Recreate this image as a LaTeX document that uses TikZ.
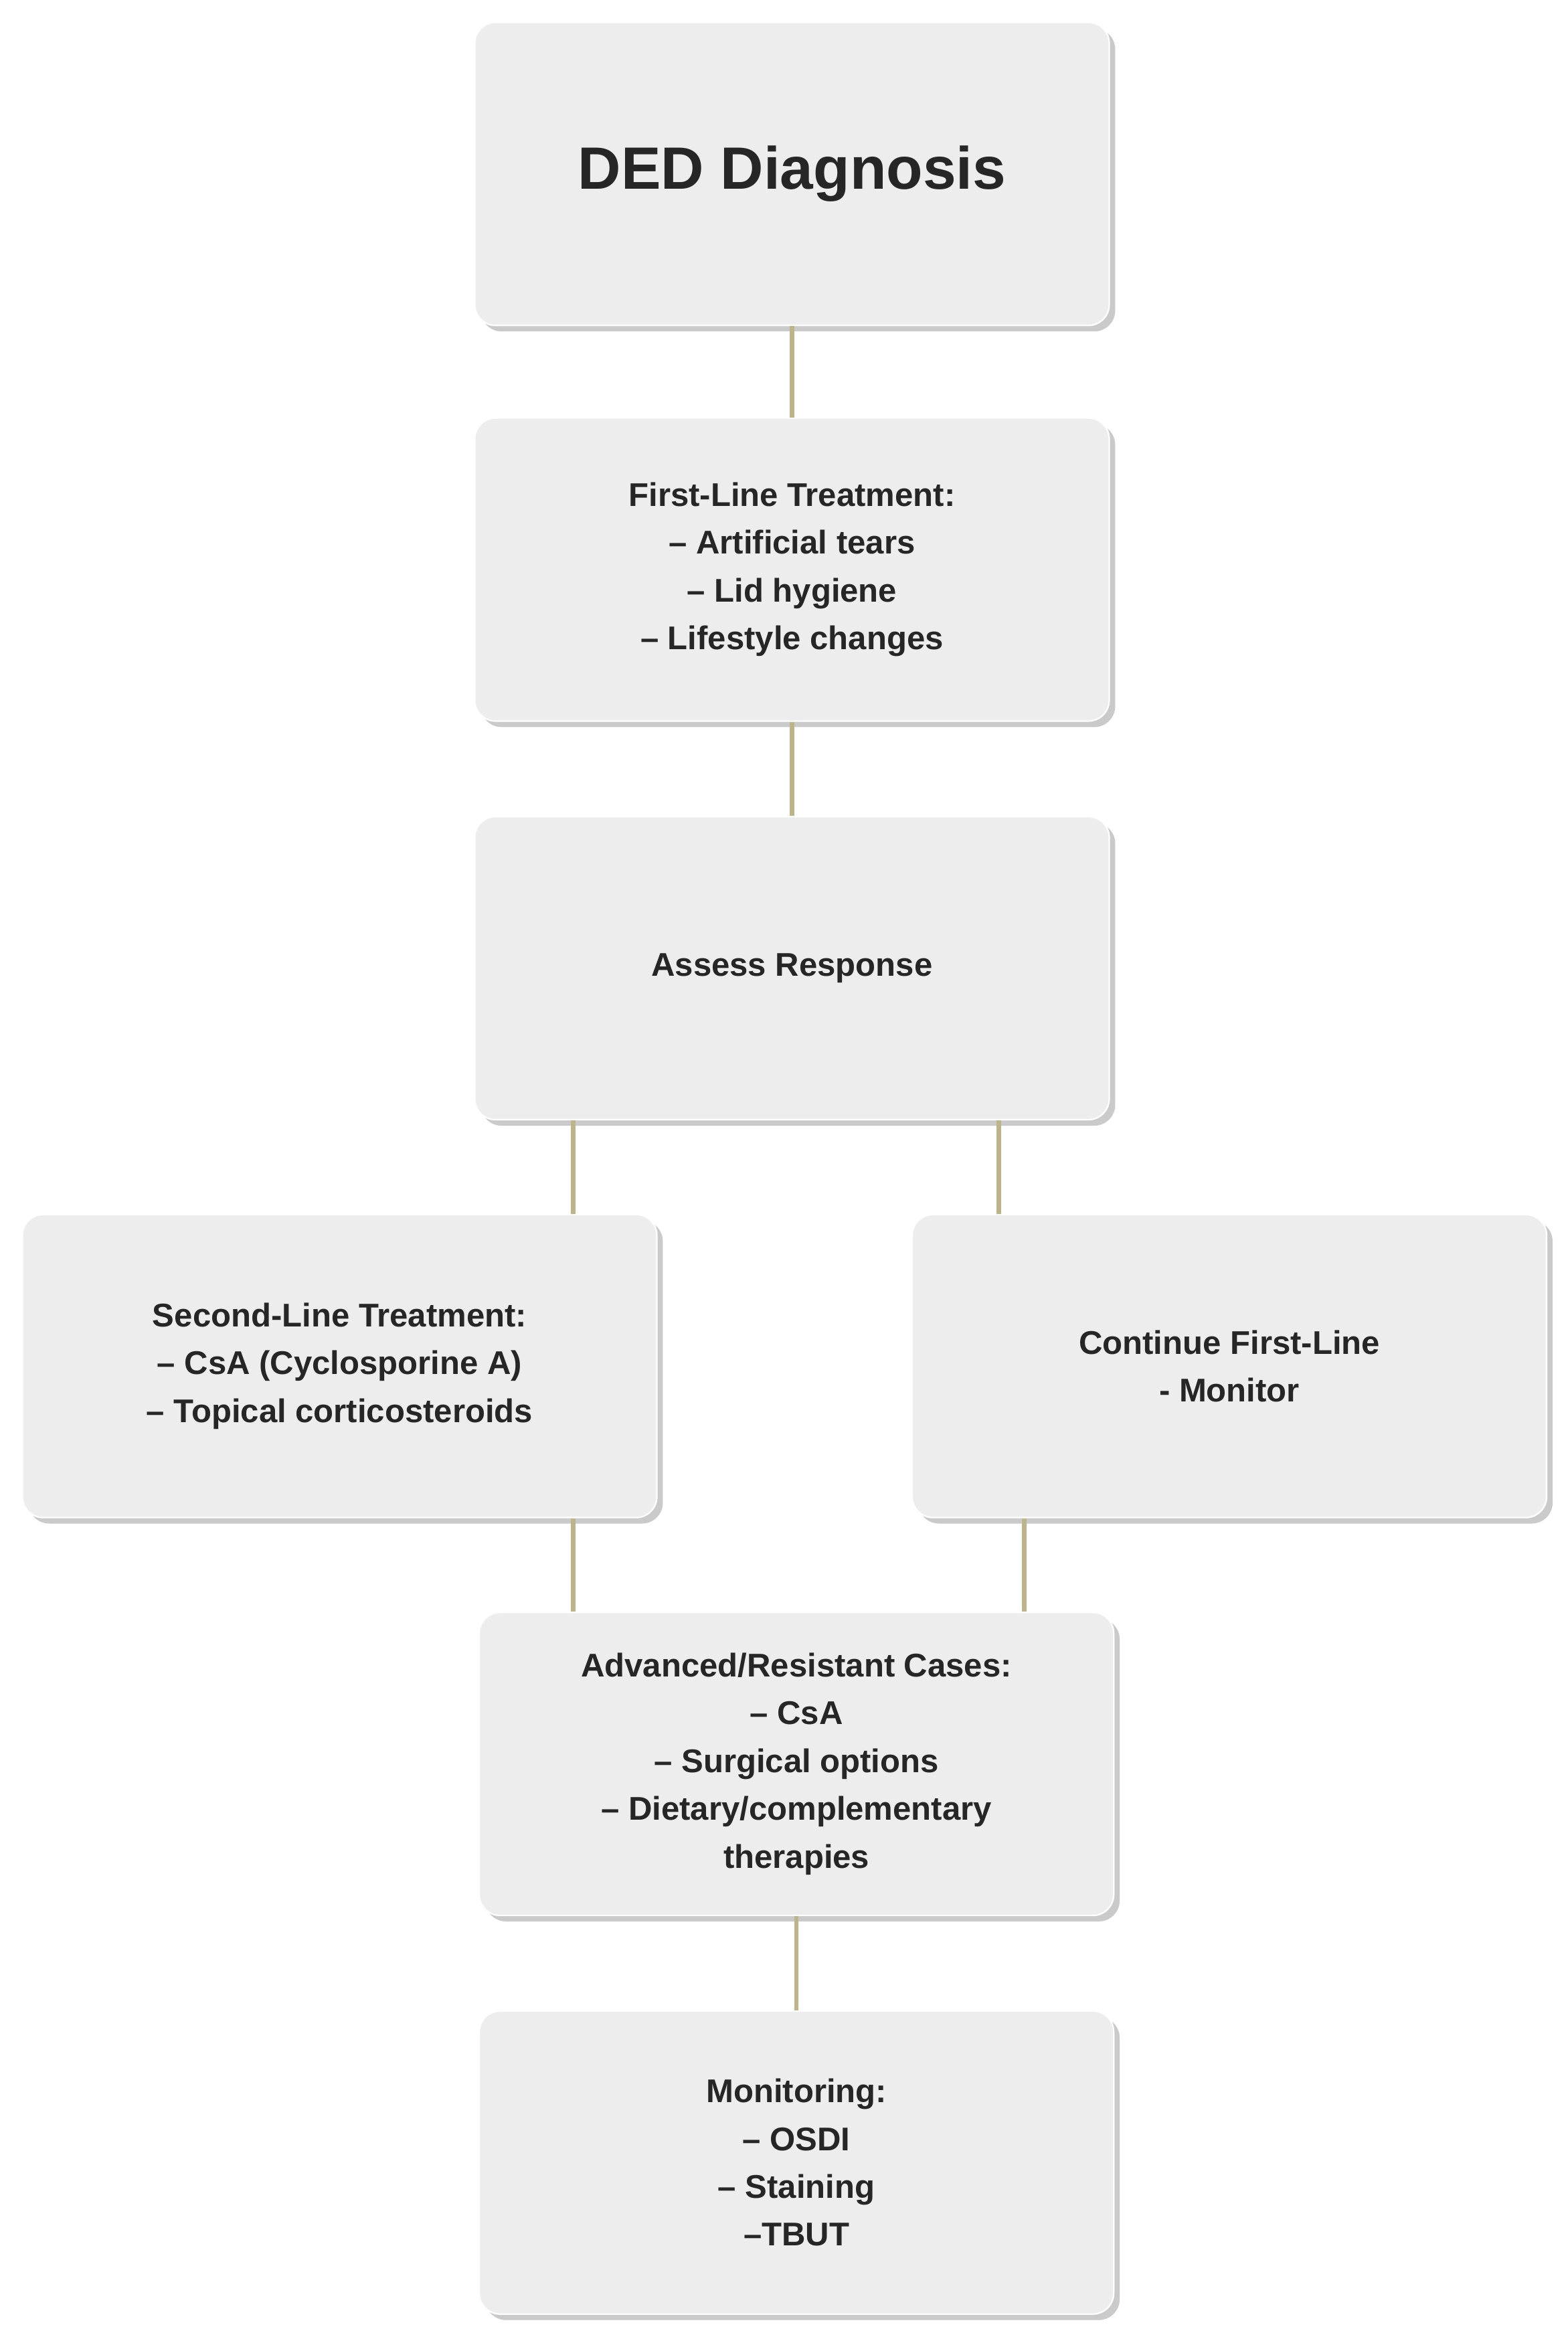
\documentclass[tikz,border=0pt]{standalone}
\usepackage{fontspec}
\setmainfont{Liberation Sans}
\usetikzlibrary{shadows}
\definecolor{boxfill}{HTML}{EDEDED}
\definecolor{conn}{HTML}{BDB48A}
\begin{document}
\begin{tikzpicture}[x=1pt,y=-1pt,
  box/.style={rectangle,rounded corners=14pt,fill=boxfill,draw=white,line width=1pt,
    minimum width=425pt,minimum height=203pt,align=center,
    font=\fontsize{22}{32}\selectfont\bfseries,text=black!85,
    drop shadow={shadow xshift=4pt,shadow yshift=-4pt,fill=black!35,opacity=0.6}},
  link/.style={conn,line width=3pt}]
\useasboundingbox (0,0) rectangle (1050,1560);
\node[box,font=\fontsize{40}{48}\selectfont\bfseries] (ded) at (530.5,116.5) {DED Diagnosis};
\node[box] (first) at (530.5,381.5) {First-Line Treatment:\\– Artificial tears\\– Lid hygiene\\– Lifestyle changes};
\node[box] (assess) at (530.5,648.5) {Assess Response};
\node[box] (second) at (227.5,915) {Second-Line Treatment:\\– CsA (Cyclosporine A)\\– Topical corticosteroids};
\node[box] (cont) at (823.5,915) {Continue First-Line\\- Monitor};
\node[box] (adv) at (533.5,1181.5) {Advanced/Resistant Cases:\\– CsA\\– Surgical options\\– Dietary/complementary\\therapies};
\node[box] (mon) at (533.5,1448.5) {Monitoring:\\– OSDI\\– Staining\\–TBUT};
\draw[link] (ded.south) -- (first.north);
\draw[link] (first.south) -- (assess.north);
\draw[link] ([xshift=-146.5pt]assess.south) -- ([xshift=156.5pt]second.north);
\draw[link] ([xshift=138.5pt]assess.south) -- ([xshift=-154.5pt]cont.north);
\draw[link] ([xshift=156.5pt]second.south) -- ([xshift=-149.5pt]adv.north);
\draw[link] ([xshift=-137.5pt]cont.south) -- ([xshift=152.5pt]adv.north);
\draw[link] (adv.south) -- (mon.north);
\end{tikzpicture}
\end{document}
